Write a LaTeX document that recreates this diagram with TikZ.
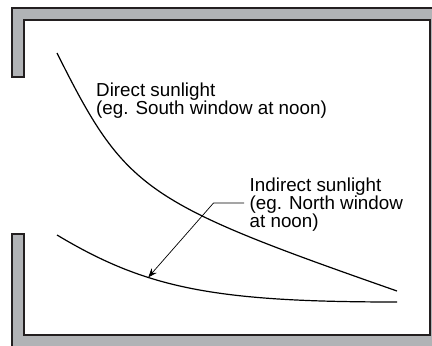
\documentclass[tikz,border=0pt]{standalone}
\usepackage{fontspec}
\setmainfont{Liberation Sans}
\usetikzlibrary{arrows.meta}
\definecolor{wallgray}{HTML}{B1B3B6}
\definecolor{wallline}{HTML}{231F20}
\tikzset{
  wall/.style={fill=wallgray, draw=wallline, line width=1.6pt, line join=miter},
  curve/.style={draw=black, line width=1.2pt},
  leader/.style={draw=black, line width=0.7pt},
  label/.style={inner sep=0pt, anchor=north west, align=left, font=\fontsize{18.8}{18}\selectfont}
}
\begin{document}
\begin{tikzpicture}[x=1pt, y=-1pt]
\useasboundingbox (0,0) rectangle (432,346);
\begin{scope}
\clip (0,0) rectangle (432,346);
\path[wall] (24,77) -- (12,77) -- (12,8) -- (460,8) -- (460,370) -- (12,370) -- (12,234) -- (24,234)
  -- (24,335) -- (430,335) -- (430,20) -- (24,20) -- cycle;
\end{scope}
% curves
\coordinate (d0) at (57,53);
\coordinate (d1) at (397,291);
\coordinate (i0) at (57,235);
\coordinate (i1) at (397,302);
\draw[curve] (d0) .. controls (125.5,190) and (142.5,202) .. (d1);
\draw[curve] (i0) .. controls (146.4,288.6) and (214.4,302) .. (i1);
% labels
\node[label] (direct) at (96,82.5) {Direct sunlight\\(eg. South window at noon)};
\node[label] (indirect) at (249.5,178) {Indirect sunlight\\(eg. North window\\at noon)};
% leader
\coordinate (lstart) at (244,203);
\coordinate (lbend) at (213.5,203);
\coordinate (ltip) at (148.3,277.3);
\draw[leader, -{Stealth[length=9pt, width=7pt]}] (lstart) -- (lbend) -- (ltip);
\end{tikzpicture}
\end{document}
